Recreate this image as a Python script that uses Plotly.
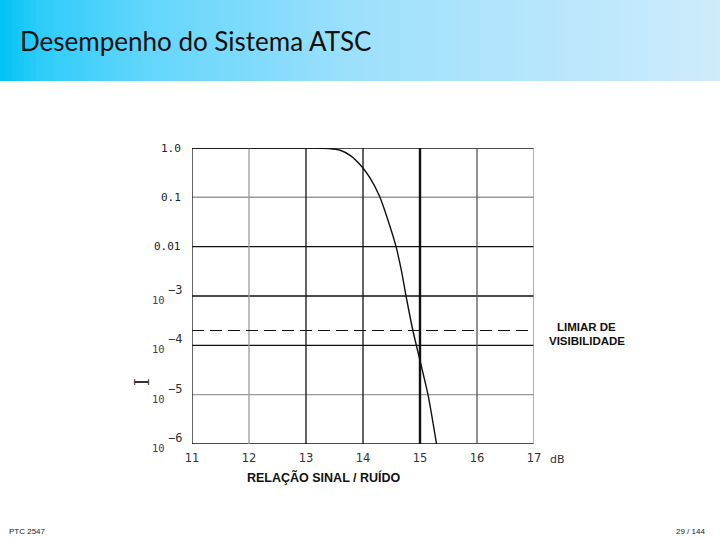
import numpy as np
import plotly.graph_objects as go

# ---------------- data ----------------
snr_db = [11.0, 12.0, 13.0, 13.4, 13.6, 13.78, 13.97, 14.12, 14.29, 14.44,
          14.58, 14.68, 14.755, 14.875, 15.14, 15.29]
ber = [1.0, 1.0, 1.0, 0.98, 0.9, 0.7, 0.43, 0.25, 0.105, 0.034,
       0.01, 3.0e-3, 1.0e-3, 2.0e-4, 1.0e-5, 1.0e-6]

threshold_value = 2.0e-4
threshold_lines = ["LIMIAR DE", "VISIBILIDADE"]

x_ticks = [11, 12, 13, 14, 15, 16, 17]
x_tick_labels = ["11", "12", "13", "14", "15", "16", "17"]

y_ticks = [1.0, 0.1, 0.01, 1e-3, 1e-4, 1e-5, 1e-6]
y_tick_base = ["1.0", "0.1", "0.01", "10", "10", "10", "10"]
y_tick_exp = ["", "", "", "−3", "−4", "−5", "−6"]

title_text = "Desempenho do Sistema ATSC"
x_title = "RELAÇÃO SINAL / RUÍDO"
x_unit = "dB"
y_title = "I"
footer_left = "PTC 2547"
footer_right = "29 / 144"

# ---------------- styles ----------------
W, H = 720, 540
L, R, T, B = 192, 186, 148, 96
GRAY = "#9a9a9a"
x_grid_style = {11: ("#111", 1.3), 12: (GRAY, 1.3), 13: ("#111", 1.3), 14: ("#111", 1.3),
                15: ("#111", 2.4), 16: ("#555", 1.3), 17: (GRAY, 1.5)}
y_grid_style = {0: ("#111", 1.5), 1: (GRAY, 1.5), 2: ("#111", 1.3), 3: ("#111", 1.5),
                4: ("#111", 1.3), 5: (GRAY, 1.3), 6: ("#111", 1.5)}


def px(xp):
    return (xp - L) / (W - L - R)


def py(yp):
    return (H - B - yp) / (H - T - B)


fig = go.Figure()

# grid lines
for i, v in enumerate(y_ticks):
    c, w = y_grid_style[i]
    fig.add_trace(go.Scatter(x=[x_ticks[0], x_ticks[-1]], y=[v, v], mode="lines",
                             line=dict(color=c, width=w), hoverinfo="skip", showlegend=False))
for v in x_ticks:
    c, w = x_grid_style[v]
    fig.add_trace(go.Scatter(x=[v, v], y=[y_ticks[-1], y_ticks[0]], mode="lines",
                             line=dict(color=c, width=w), hoverinfo="skip", showlegend=False))

# threshold dashed line
fig.add_trace(go.Scatter(x=[x_ticks[0], x_ticks[-1]], y=[threshold_value, threshold_value],
                         mode="lines", line=dict(color="#111", width=1.2, dash="12px,6px"),
                         hoverinfo="skip", showlegend=False))

# performance curve
fig.add_trace(go.Scatter(x=snr_db, y=ber, mode="lines",
                         line=dict(color="#111", width=1.4, shape="spline", smoothing=0.6),
                         hoverinfo="skip", showlegend=False))

# header gradient band
stops = [(0, (0, 196, 245)), (40, (45, 205, 250)), (150, (100, 214, 252)),
         (360, (158, 224, 252)), (720, (205, 236, 252))]


def grad(xp):
    for (a, ca), (b, cb) in zip(stops[:-1], stops[1:]):
        if a <= xp <= b:
            t = (xp - a) / (b - a)
            return "rgb(%d,%d,%d)" % tuple(round(ca[k] + (cb[k] - ca[k]) * t) for k in range(3))
    return "rgb(205,236,252)"


shapes = []
step = 6
for xp in range(0, W, step):
    shapes.append(dict(type="rect", xref="paper", yref="paper",
                       x0=px(xp), x1=px(xp + step + 0.5), y0=py(81), y1=py(0),
                       fillcolor=grad(xp + step / 2), line=dict(width=0), layer="below"))

annotations = []
annotations.append(dict(text=title_text, xref="paper", yref="paper", x=px(18), y=py(41),
                        xanchor="left", yanchor="middle", showarrow=False,
                        font=dict(family="Lato", size=26, color="#111")))

# y tick labels
for v, base, ex in zip(y_ticks, y_tick_base, y_tick_exp):
    yl = np.log10(v)
    if ex == "":
        annotations.append(dict(text=base, xref="x", yref="y", x=x_ticks[0], y=yl,
                                xanchor="right", yanchor="middle", xshift=-9, showarrow=False,
                                font=dict(family="DejaVu Sans Mono", size=11, color="#222")))
    else:
        annotations.append(dict(text=base, xref="x", yref="y", x=x_ticks[0], y=yl,
                                xanchor="right", yanchor="middle", xshift=-25, yshift=-4,
                                showarrow=False,
                                font=dict(family="DejaVu Sans Mono", size=10.5, color="#444")))
        annotations.append(dict(text=ex, xref="x", yref="y", x=x_ticks[0], y=yl,
                                xanchor="left", yanchor="middle", xshift=-26, yshift=6,
                                showarrow=False,
                                font=dict(family="DejaVu Sans Mono", size=12, color="#333")))

annotations.append(dict(text=x_unit, xref="x", yref="paper", x=x_ticks[-1], y=py(459),
                        xanchor="center", yanchor="middle", xshift=23, showarrow=False,
                        font=dict(family="DejaVu Sans", size=11, color="#333")))
annotations.append(dict(text="<b>%s</b>" % x_title, xref="paper", yref="paper", x=px(323.5),
                        y=py(477.5), xanchor="center", yanchor="middle", showarrow=False,
                        font=dict(family="Liberation Sans", size=12.5, color="#111")))
annotations.append(dict(text="<b>%s</b>" % threshold_lines[0], xref="paper", yref="paper",
                        x=px(586.5), y=py(327), xanchor="center", yanchor="middle",
                        showarrow=False, font=dict(family="Liberation Sans", size=11.5, color="#111")))
annotations.append(dict(text="<b>%s</b>" % threshold_lines[1], xref="paper", yref="paper",
                        x=px(586.5), y=py(341), xanchor="center", yanchor="middle",
                        showarrow=False, font=dict(family="Liberation Sans", size=11.5, color="#111")))
annotations.append(dict(text=y_title, xref="paper", yref="paper", x=px(142), y=py(382),
                        xanchor="center", yanchor="middle", textangle=-90, showarrow=False,
                        font=dict(family="DejaVu Serif", size=20, color="#333")))
annotations.append(dict(text=footer_left, xref="paper", yref="paper", x=px(7), y=py(531),
                        xanchor="left", yanchor="middle", showarrow=False,
                        font=dict(family="Liberation Sans", size=8, color="#222")))
annotations.append(dict(text=footer_right, xref="paper", yref="paper", x=px(707), y=py(531),
                        xanchor="right", yanchor="middle", showarrow=False,
                        font=dict(family="Liberation Sans", size=8, color="#222")))

fig.update_layout(
    width=W, height=H,
    margin=dict(l=L, r=R, t=T, b=B, autoexpand=False),
    paper_bgcolor="white", plot_bgcolor="white",
    shapes=shapes, annotations=annotations,
    xaxis=dict(range=[x_ticks[0], x_ticks[-1]], tickvals=x_ticks, ticktext=x_tick_labels,
               showgrid=False, zeroline=False, showline=False, ticks="",
               ticklabelstandoff=5,
               tickfont=dict(family="DejaVu Sans", size=11.5, color="#333")),
    yaxis=dict(type="log", range=[-6, 0], showgrid=False, zeroline=False, showline=False,
               showticklabels=False, ticks=""),
)

fig.write_html("out.html", config={"displayModeBar": False},
               post_script="document.body.style.margin='0';document.body.style.overflow='hidden';")
